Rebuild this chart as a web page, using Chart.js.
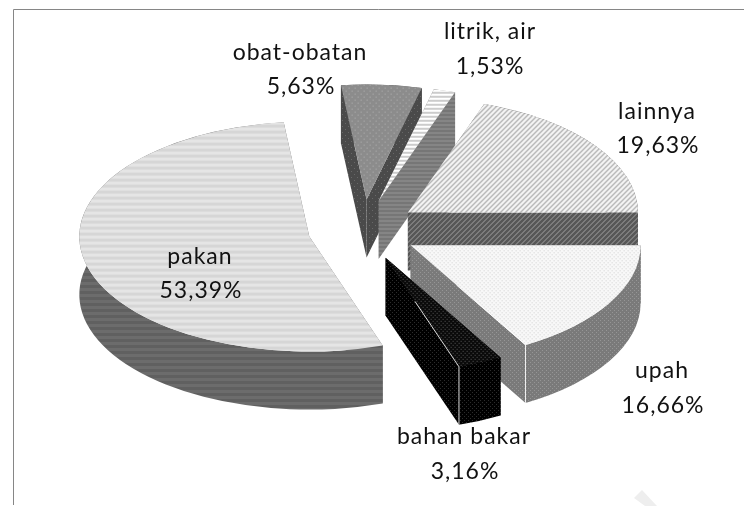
<!DOCTYPE html>
<html>
<head>
<meta charset="utf-8">
<title>Pie</title>
<style>
html, body { margin: 0; padding: 0; background: #fff; }
#wrap { position: relative; width: 744px; height: 506px; }
canvas { display: block; }
</style>
<script src="https://cdn.jsdelivr.net/npm/chart.js@4"></script>
</head>
<body>
<div id="wrap"><canvas id="pieChart" width="744" height="506"></canvas></div>
<script>
const categories = ['pakan', 'obat-obatan', 'litrik, air', 'lainnya', 'upah', 'bahan bakar'];
const shares = [53.39, 5.63, 1.53, 19.63, 16.66, 3.16];
const shareLabels = ['53,39%', '5,63%', '1,53%', '19,63%', '16,66%', '3,16%'];

// label centres in the page, name line then value line
const labelPlaces = [
  [200, 257, 201, 291],
  [300, 53, 301, 87],
  [490, 32, 490, 67],
  [657, 112, 658, 146],
  [662, 371, 663, 406],
  [464, 437, 465, 472]
];

const tilt = 0.5;       // ellipse height / width
const depth = 58;       // thickness of the pie
const explodeX = 55;
const explodeY = 30.5;

// small repeating tile
function tile(w, h, paint) {
  const c = document.createElement('canvas');
  c.width = w;
  c.height = h;
  paint(c.getContext('2d'));
  const p = c.getContext('2d').createPattern(c, 'repeat');
  return p;
}
function stripes(a, b, band) {
  return tile(1, band * 2, g => {
    g.fillStyle = a; g.fillRect(0, 0, 1, band);
    g.fillStyle = b; g.fillRect(0, band, 1, band);
  });
}
function dots(bg, dot, step) {
  return tile(step * 2, step * 2, g => {
    g.fillStyle = bg; g.fillRect(0, 0, step * 2, step * 2);
    g.fillStyle = dot;
    g.fillRect(0, 0, 1, 1);
    g.fillRect(step, step, 1, 1);
  });
}
function diagonal(bg, line) {
  return tile(5, 5, g => {
    g.fillStyle = bg; g.fillRect(0, 0, 5, 5);
    g.fillStyle = line;
    for (let i = 0; i < 5; i++) {
      g.fillRect(i, 4 - i, 2, 1);
      g.fillRect(i - 5, 4 - i, 2, 1);
    }
  });
}

const topFills = [
  stripes('#e5e5e5', '#d6d6d6', 3),
  dots('#8c8c8c', '#b4b4b4', 3),
  stripes('#ffffff', '#cccccc', 2),
  diagonal('#f4f4f4', '#b8b8b8'),
  dots('#f8f8f8', '#d0d0d0', 2),
  dots('#0a0a0a', '#5a5a5a', 2)
];
const wallFills = [
  stripes('#6c6c6c', '#606060', 3),
  dots('#4a4a4a', '#686868', 3),
  stripes('#858585', '#767676', 2),
  diagonal('#575757', '#7c7c7c'),
  dots('#7a7a7a', '#959595', 2),
  dots('#000000', '#2c2c2c', 2)
];

// the top faces are drawn in a squashed space, keep their tiles square
topFills.forEach(p => p.setTransform(new DOMMatrix().scale(1, 1 / tilt)));

function drawWalls(ctx, arc, i, cx, cy) {
  const r = arc.outerRadius;
  const a0 = arc.startAngle;
  const a1 = arc.endAngle;
  const b = r * tilt;
  const x0 = cx + r * Math.cos(a0), y0 = cy + b * Math.sin(a0);
  const x1 = cx + r * Math.cos(a1), y1 = cy + b * Math.sin(a1);
  ctx.fillStyle = wallFills[i];

  ctx.beginPath();
  ctx.moveTo(cx, cy); ctx.lineTo(x0, y0); ctx.lineTo(x0, y0 + depth); ctx.lineTo(cx, cy + depth);
  ctx.closePath();
  ctx.fill();

  ctx.beginPath();
  ctx.moveTo(cx, cy); ctx.lineTo(x1, y1); ctx.lineTo(x1, y1 + depth); ctx.lineTo(cx, cy + depth);
  ctx.closePath();
  ctx.fill();

  ctx.beginPath();
  ctx.ellipse(cx, cy, r, b, 0, a0, a1);
  ctx.ellipse(cx, cy + depth, r, b, 0, a1, a0, true);
  ctx.closePath();
  ctx.fill();
}

const pie3d = {
  id: 'pie3d',
  beforeDatasetDraw(chart, args) {
    const ctx = chart.ctx;
    const arcs = args.meta.data.map((arc, i) => ({ arc, i }));
    // back slices first
    arcs.sort((p, q) => Math.sin((p.arc.startAngle + p.arc.endAngle) / 2) - Math.sin((q.arc.startAngle + q.arc.endAngle) / 2));

    arcs.forEach(({ arc, i }) => {
      const mid = (arc.startAngle + arc.endAngle) / 2;
      const cx = arc.x + explodeX * Math.cos(mid);
      const cy = arc.y + explodeY * Math.sin(mid);
      drawWalls(ctx, arc, i, cx, cy);

      ctx.save();
      ctx.translate(cx, cy);
      ctx.scale(1, tilt);
      ctx.translate(-arc.x, -arc.y);
      arc.draw(ctx);
      ctx.restore();

      // pale edge where the two front walls meet
      const end = arc.endAngle;
      if (Math.sin(end) > 0.01 && Math.cos(end) < 0.99) {
        const ex = cx + arc.outerRadius * Math.cos(end);
        const ey = cy + arc.outerRadius * tilt * Math.sin(end);
        ctx.strokeStyle = 'rgba(255,255,255,0.85)';
        ctx.lineWidth = 1;
        ctx.beginPath();
        ctx.moveTo(cx + (ex - cx) * 0.4, cy + (ey - cy) * 0.4);
        ctx.lineTo(ex, ey);
        ctx.lineTo(ex, ey + depth);
        ctx.stroke();
      }
    });
    return false;
  },
  afterDraw(chart) {
    const ctx = chart.ctx;
    ctx.save();
    // outer frame, open on the right and at the bottom
    ctx.strokeStyle = '#868686';
    ctx.lineWidth = 1;
    ctx.beginPath();
    ctx.moveTo(13.5, 505);
    ctx.lineTo(13.5, 9.5);
    ctx.lineTo(744, 9.5);
    ctx.stroke();

    // corner of the watermark band
    ctx.fillStyle = '#eeeeee';
    ctx.beginPath();
    ctx.moveTo(642, 490); ctx.lineTo(634, 498); ctx.lineTo(645, 506); ctx.lineTo(657, 506);
    ctx.closePath();
    ctx.fill();

    ctx.fillStyle = '#111111';
    ctx.font = '23px Lato';
    ctx.letterSpacing = '1px';
    ctx.textAlign = 'center';
    ctx.textBaseline = 'middle';
    categories.forEach((name, i) => {
      const p = labelPlaces[i];
      ctx.fillText(name, p[0], p[1]);
      ctx.fillText(shareLabels[i], p[2], p[3]);
    });
    ctx.restore();
  }
};

new Chart(document.getElementById('pieChart'), {
  type: 'pie',
  data: {
    labels: categories,
    datasets: [{
      data: shares,
      backgroundColor: topFills,
      borderWidth: 0,
      hoverOffset: 0
    }]
  },
  options: {
    responsive: false,
    animation: false,
    events: [],
    rotation: 161.4,
    layout: { padding: { left: 0, right: 18, top: 0, bottom: 46 } },
    plugins: {
      legend: { display: false },
      title: { display: false },
      tooltip: { enabled: false }
    }
  },
  plugins: [pie3d]
});
</script>
</body>
</html>
